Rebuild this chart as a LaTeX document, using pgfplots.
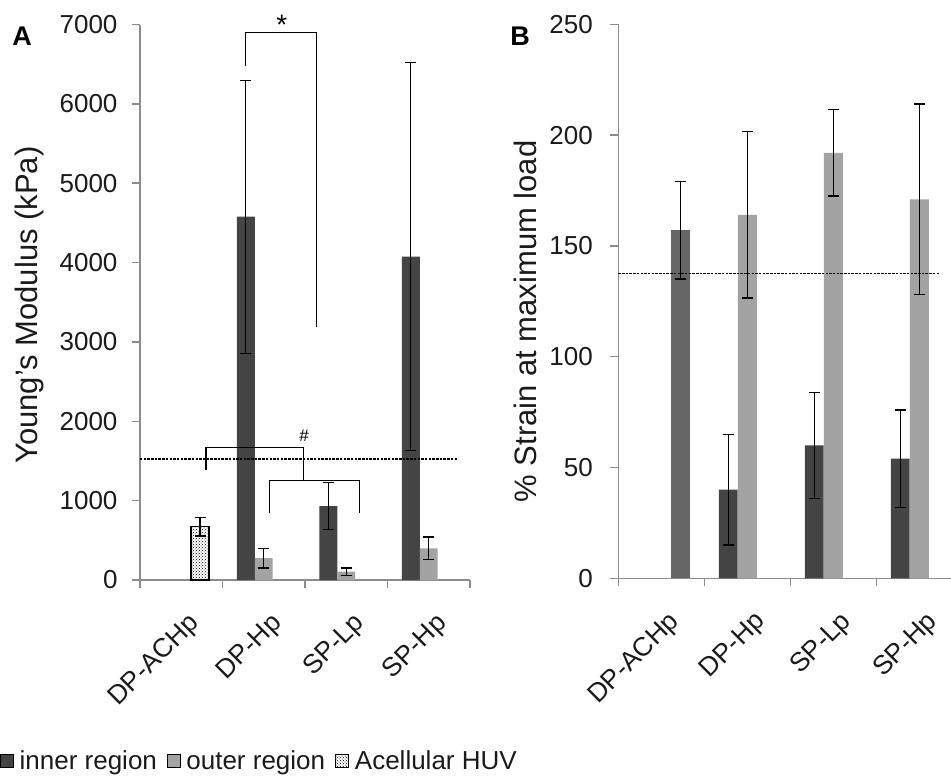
\documentclass[border=0pt]{standalone}
\usepackage{pgfplots}
\pgfplotsset{compat=1.18}
\usepackage{pgfplotstable}
\usepackage{fontspec}
\setmainfont{Liberation Sans}
\usetikzlibrary{patterns}
\definecolor{inner}{HTML}{444444}
\definecolor{outer}{HTML}{A3A3A3}
\definecolor{acb}{HTML}{666666}
\definecolor{axisgray}{HTML}{8C8C8C}
\definecolor{txt}{HTML}{1A1A1A}

\pgfplotstableread{
x y e
1 4578 1720
2 932 300
3 4074 2446
}\Ainner
\pgfplotstableread{
x y e
1 275 125
2 105 45
3 400 140
}\Aouter
\pgfplotstableread{
x y e
0 672 118
}\Aacell
\pgfplotstableread{
x y e
1 40 25
2 60 24
3 54 22
}\Binner
\pgfplotstableread{
x y e
1 164 37.5
2 192 19.5
3 171 43
}\Bouter
\pgfplotstableread{
x y e
0 157 22
}\Bacell

\newcommand{\tfont}{\fontsize{26}{26}\selectfont}
\newcommand{\xfont}{\fontsize{26.5}{26.5}\selectfont}
\newcommand{\lfont}{\fontsize{31}{31}\selectfont}

\pgfplotsset{
  panel/.style={
    scale only axis,
    xmin=-0.5, xmax=3.5, ymin=0,
    axis lines*=left,
    axis line style={axisgray, line width=1.5pt},
    tick align=outside,
    major tick length=8pt,
    tick style={axisgray, line width=1.5pt},
    xtick={-0.5,0.5,1.5,2.5,3.5},
    xticklabels={,,,,},
    extra x ticks={0,1,2,3},
    extra x tick labels={DP-ACHp,DP-Hp,SP-Lp,SP-Hp},
    extra x tick style={major tick length=0pt},
    xticklabel style={xshift=6pt, yshift=-31pt, rotate=45, anchor=north east, inner sep=0pt, font=\xfont, text=txt},
    yticklabel style={font=\tfont, text=txt, xshift=-11pt},
    /pgf/number format/assume math mode=true,
    /pgf/number format/1000 sep={},
    ylabel style={font=\lfont, text=txt},
    clip=false,
    errb/.style={error bars/.cd, y dir=both, y explicit,
      error bar style={black, line width=1.3pt},
      error mark options={rotate=90, mark size=5.5pt, black, line width=1.3pt}},
  }
}

\begin{document}
\begin{tikzpicture}
\path[use as bounding box] (0pt,0pt) rectangle (951pt,777pt);

\node[font=\bfseries\fontsize{27}{27}\selectfont, text=black] at (22pt,741pt) {A};
\node[font=\bfseries\fontsize{27}{27}\selectfont, text=black] at (520pt,741pt) {B};

\begin{axis}[panel,
  at={(140pt,197pt)}, anchor=south west,
  width=330pt, height=555.5pt,
  ymax=7000, ytick={0,1000,...,7000},
  ylabel={Young\symbol{39}s Modulus (kPa)},
  ylabel style={at={(axis description cs:-0.336,0.495)}, anchor=center},
  legend style={at={(axis description cs:-0.424,-0.326)}, anchor=west,
    draw=none, fill=none, inner sep=0pt, legend columns=3,
    font=\tfont, text=txt,
    /tikz/every odd column/.append style={column sep=6pt},
    /tikz/every even column/.append style={column sep=10pt},
    nodes={inner sep=0pt}},
]
\addplot[ybar, bar width=0.218, bar shift=0, fill=inner, draw=none, forget plot, errb]
  table[x expr=\thisrow{x}-0.218, y=y, y error=e] {\Ainner};
\addplot[ybar, bar width=0.218, bar shift=0, fill=outer, draw=none, forget plot, errb]
  table[x=x, y=y, y error=e] {\Aouter};
\addplot[ybar, bar width=0.218, bar shift=0, pattern=crosshatch dots, pattern color=black, draw=black, line width=1.2pt, forget plot, errb]
  table[x expr=\thisrow{x}+0.228, y=y, y error=e] {\Aacell};
\addplot[black, line width=1.7pt, dash pattern=on 2.5pt off 1.2pt, forget plot]
  coordinates {(-0.5,1525) (3.345,1525)};

\draw[black, line width=1.4pt] (axis cs:0.782,6481) |- (axis cs:1.636,6901) -- (axis cs:1.636,3184);
\node[font=\fontsize{28}{28}\selectfont] at (axis cs:1.22,6990) {*};
\draw[black, line width=1.4pt] (axis cs:0.299,1386) |- (axis cs:1.482,1672) -- (axis cs:1.482,1251);
\draw[black, line width=1.4pt] (axis cs:1.067,840) |- (axis cs:2.161,1251) -- (axis cs:2.161,840);
\node[font=\fontsize{17}{17}\selectfont] at (axis cs:1.49,1815) {\#};

\addlegendimage{legend image code/.code={\path[fill=inner] (0pt,-6.5pt) rectangle (13pt,6.5pt);}}
\addlegendentry{inner region}
\addlegendimage{legend image code/.code={\path[fill=outer] (0pt,-6.5pt) rectangle (13pt,6.5pt);}}
\addlegendentry{outer region}
\addlegendimage{legend image code/.code={\path[pattern=crosshatch dots, pattern color=black, draw=black, line width=0.8pt] (0pt,-6.5pt) rectangle (13pt,6.5pt);}}
\addlegendentry{Acellular HUV}
\end{axis}

\begin{axis}[panel,
  at={(618.3pt,198.7pt)}, anchor=south west,
  width=344pt, height=554pt,
  ymax=250, ytick={0,50,...,250},
  yticklabel style={xshift=-3pt},
  ylabel={\% Strain at maximum load},
  ylabel style={at={(axis description cs:-0.271,0.4635)}, anchor=center},
]
\addplot[ybar, bar width=0.22, bar shift=0, fill=inner, draw=none, errb]
  table[x expr=\thisrow{x}-0.222, y=y, y error=e] {\Binner};
\addplot[ybar, bar width=0.22, bar shift=0, fill=outer, draw=none, errb]
  table[x=x, y=y, y error=e] {\Bouter};
\addplot[ybar, bar width=0.22, bar shift=0, fill=acb, draw=none, errb]
  table[x expr=\thisrow{x}+0.221, y=y, y error=e] {\Bacell};
\addplot[black, line width=1.7pt, dash pattern=on 2.5pt off 1.2pt]
  coordinates {(-0.5,137.6) (3.238,137.6)};
\end{axis}
\end{tikzpicture}
\end{document}
